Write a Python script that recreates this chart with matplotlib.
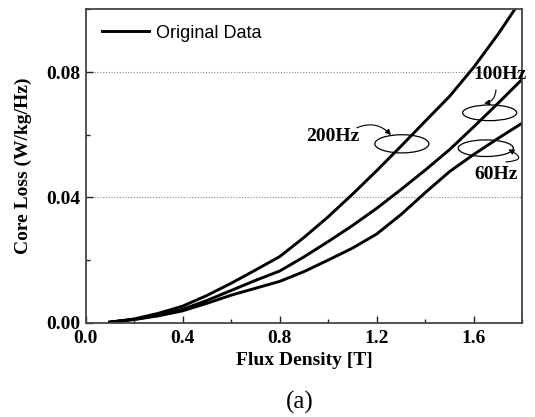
import matplotlib
matplotlib.use("Agg")
import matplotlib.pyplot as plt
from matplotlib.patches import Ellipse
from matplotlib.ticker import MultipleLocator

# flux density [T]
flux = [0.1, 0.2, 0.3, 0.4, 0.5, 0.6, 0.7, 0.8, 0.9, 1.0,
        1.1, 1.2, 1.3, 1.4, 1.5, 1.6, 1.7, 1.8]
# core loss [W/kg/Hz]
loss_200 = [0.0002, 0.0012, 0.0030, 0.0053, 0.0087, 0.0126, 0.0168, 0.0211, 0.0272, 0.0338,
            0.0410, 0.0485, 0.0563, 0.0643, 0.0722, 0.0815, 0.0920, 0.1035]
loss_100 = [0.0002, 0.0011, 0.0025, 0.0043, 0.0071, 0.0103, 0.0135, 0.0165, 0.0210, 0.0259,
            0.0310, 0.0365, 0.0425, 0.0487, 0.0552, 0.0625, 0.0700, 0.0777]
loss_60 = [0.0002, 0.0010, 0.0022, 0.0038, 0.0062, 0.0088, 0.0110, 0.0132, 0.0163, 0.0200,
           0.0238, 0.0283, 0.0345, 0.0415, 0.0482, 0.0537, 0.0588, 0.0637]

xticks = [0.0, 0.4, 0.8, 1.2, 1.6]
yticks = [0.00, 0.04, 0.08]

serif = "Liberation Serif"
sans = "Liberation Sans"

fig = plt.figure(figsize=(5.35, 4.17), dpi=100)
ax = fig.add_axes([0.160, 0.226, 0.816, 0.7515])

lw = 2.1
ax.plot(flux, loss_200, color="black", lw=lw, label="Original Data")
ax.plot(flux, loss_100, color="black", lw=lw)
ax.plot(flux, loss_60, color="black", lw=lw)

ax.set_xlim(0, 1.8)
ax.set_ylim(0, 0.1)
ax.set_xticks(xticks)
ax.set_yticks(yticks)
ax.set_xticklabels([f"{v:.1f}" for v in xticks])
ax.set_yticklabels([f"{v:.2f}" for v in yticks])
ax.xaxis.set_minor_locator(MultipleLocator(0.2))
ax.yaxis.set_minor_locator(MultipleLocator(0.02))
ax.tick_params(which="both", direction="in", top=False, right=False, width=1.0, color="#222222")
ax.tick_params(which="major", length=5)
ax.tick_params(which="minor", length=3)
ax.tick_params(axis="x", pad=5)
ax.tick_params(axis="y", pad=4)
for lab in ax.get_xticklabels() + ax.get_yticklabels():
    lab.set_fontfamily(serif)
    lab.set_fontweight("bold")
    lab.set_fontsize(14)

for g in [0.04, 0.08]:
    ax.axhline(g, color="#888888", lw=0.8, ls=(0, (1, 1.5)), zorder=0)

for s in ax.spines.values():
    s.set_linewidth(1.3)
    s.set_color("#444444")

ax.set_xlabel("Flux Density [T]", fontfamily=serif, fontweight="bold", fontsize=14, labelpad=4)
ax.set_ylabel("Core Loss (W/kg/Hz)", fontfamily=serif, fontweight="bold", fontsize=14, labelpad=10)

ax.legend(loc="center left", bbox_to_anchor=(0.037, 0.924), frameon=False,
          borderpad=0, borderaxespad=0, handlelength=2.6, handletextpad=0.4,
          prop={"family": sans, "size": 13})

# ellipses marking curves
for cx, cy, w, h in [(1.304, 0.0571, 0.223, 0.0058),
                     (1.666, 0.0670, 0.223, 0.0050),
                     (1.650, 0.0557, 0.227, 0.0053)]:
    ax.add_patch(Ellipse((cx, cy), w, h, fill=False, ec="black", lw=0.9))

tfont = dict(fontfamily=serif, fontweight="bold", fontsize=14, va="center", ha="left")
ax.text(0.911, 0.0594, "200Hz", **tfont)
ax.text(1.601, 0.0792, "100Hz", clip_on=False, **tfont)
ax.text(1.605, 0.0472, "60Hz", **tfont)

aprops = dict(arrowstyle="-|>", color="black", lw=0.8, mutation_scale=8, shrinkA=0, shrinkB=0)
ax.annotate("", xy=(1.259, 0.0599), xytext=(1.118, 0.0622),
            arrowprops=dict(connectionstyle="arc3,rad=-0.35", **aprops))
ax.annotate("", xy=(1.643, 0.0700), xytext=(1.692, 0.0743),
            arrowprops=dict(connectionstyle="arc3,rad=-0.4", **aprops))
ax.annotate("", xy=(1.743, 0.0553), xytext=(1.733, 0.0513),
            arrowprops=dict(connectionstyle="arc3,rad=1.8", **aprops))

fig.text(0.561, 0.034, "(a)", fontfamily=serif, fontsize=18, ha="center", va="center")

fig.savefig("out.png", dpi=100)
